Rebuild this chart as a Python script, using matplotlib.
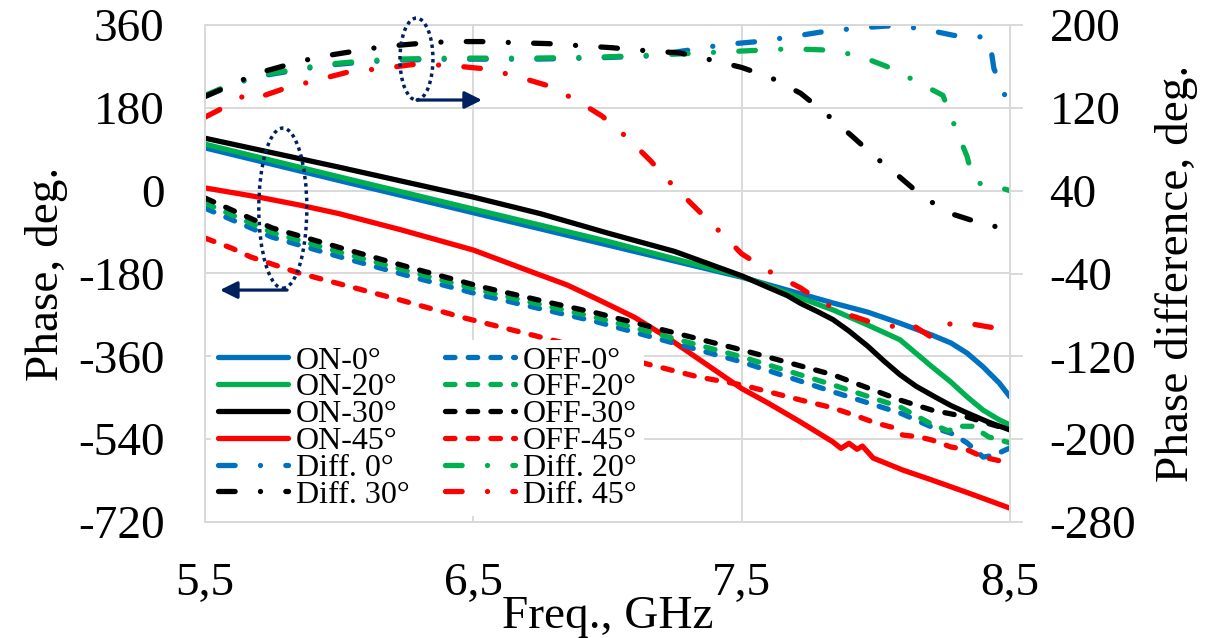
import matplotlib
matplotlib.use('Agg')
import matplotlib.pyplot as plt
from matplotlib.patches import Ellipse

plt.rcParams['font.family'] = ['Liberation Serif', 'DejaVu Serif']

# ---------------- data ----------------
freq_ticks = [5.5, 6.5, 7.5, 8.5]
freq_tick_labels = ['5,5', '6,5', '7,5', '8,5']
phase_ticks = [-720, -540, -360, -180, 0, 180, 360]
diff_ticks = [-280, -200, -120, -40, 40, 120, 200]

on0_f = [5.5, 6.0, 6.5, 7.0, 7.5, 7.84, 7.97, 8.09, 8.21, 8.28, 8.34, 8.4, 8.46, 8.5]
on0_v = [93, 22, -48, -118, -188, -244, -264, -288, -314, -331, -353, -383, -418, -448]

on20_f = [5.5, 6.0, 6.5, 7.0, 7.5, 7.84, 7.97, 8.09, 8.21, 8.28, 8.34, 8.4, 8.46, 8.5]
on20_v = [101, 30, -40, -110, -186, -259, -292, -324, -383, -416, -448, -477, -498, -509]

on30_f = [5.5, 6.0, 6.5, 6.75, 7.0, 7.25, 7.5, 7.59, 7.67, 7.72, 7.78, 7.84, 7.9, 7.97, 8.03, 8.09, 8.15, 8.22, 8.28, 8.34, 8.42, 8.5]
on30_v = [114, 51, -14, -50, -92, -132, -185, -208, -228, -245, -262, -280, -305, -338, -370, -400, -425, -448, -467, -483, -503, -520]

on45_f = [5.5, 5.7, 5.85, 6.0, 6.23, 6.5, 6.72, 6.85, 6.97, 7.1, 7.22, 7.34, 7.5, 7.6, 7.72, 7.84, 7.87, 7.9, 7.93, 7.95, 7.99, 8.1, 8.21, 8.35, 8.5]
on45_v = [6, -14, -31, -50, -85, -129, -177, -205, -238, -275, -318, -366, -430, -462, -503, -546, -560, -549, -562, -555, -581, -607, -629, -658, -690]

off30_f = [5.5, 5.75, 6.01, 6.27, 6.53, 6.79, 6.96, 7.5, 7.84, 8.09, 8.21, 8.34, 8.5]
off30_v = [-16, -81, -125, -168, -209, -244, -266, -346, -400, -455, -477, -492, -520]

off20_f = [5.5, 5.75, 6.01, 6.27, 6.53, 6.79, 6.96, 7.5, 7.84, 8.09, 8.2, 8.27, 8.31, 8.36, 8.42, 8.5]
off20_v = [-27, -91, -135, -177, -217, -253, -276, -361, -422, -470, -505, -522, -512, -512, -535, -548]

off0_f = [5.5, 5.75, 6.01, 6.27, 6.53, 6.79, 6.96, 7.5, 7.84, 8.09, 8.21, 8.28, 8.34, 8.4, 8.44, 8.5]
off0_v = [-38, -101, -145, -187, -227, -262, -285, -372, -437, -483, -514, -527, -548, -579, -575, -559]

off45_f = [5.5, 5.6, 5.67, 5.85, 6.23, 6.47, 7.13, 7.34, 7.5, 7.72, 7.84, 7.93, 8.0, 8.06, 8.1, 8.16, 8.21, 8.28, 8.34, 8.4, 8.5]
off45_v = [-103, -125, -144, -179, -238, -277, -374, -405, -422, -455, -472, -490, -505, -514, -531, -535, -542, -557, -563, -579, -592]

diff0_f = [5.5, 5.59, 5.69, 5.83, 5.95, 6.08, 6.2, 6.41, 6.56, 6.72, 6.93, 7.15, 7.31, 7.43, 7.56, 7.67, 7.79, 7.93, 8.04, 8.16, 8.29, 8.36, 8.41, 8.43, 8.44, 8.47, 8.5]
diff0_v = [131, 141, 150, 156, 161, 164, 166, 167, 167, 167, 168, 170, 176, 181, 184, 188, 193, 197, 199, 197, 190, 188, 189, 175, 158, 139, 120]

diff20_f = [5.5, 5.59, 5.69, 5.83, 5.95, 6.08, 6.2, 6.41, 6.56, 6.72, 6.97, 7.18, 7.43, 7.68, 7.8, 7.93, 8.04, 8.14, 8.25, 8.29, 8.34, 8.36, 8.38, 8.41, 8.5]
diff20_v = [132, 142, 151, 157, 162, 165, 167, 168, 168, 168, 169, 171, 174, 177, 176, 171, 160, 147, 132, 105, 73, 53, 47, 47, 40]

diff30_f = [5.5, 5.59, 5.69, 5.8, 5.92, 6.04, 6.16, 6.29, 6.41, 6.53, 6.65, 6.78, 6.9, 7.02, 7.1, 7.27, 7.39, 7.5, 7.61, 7.72, 7.82, 7.91, 8.0, 8.09, 8.18, 8.29, 8.41, 8.5]
diff30_v = [131, 141, 153, 161, 169, 174, 179, 182, 184, 184, 183, 182, 180, 178, 176, 173, 166, 159, 149, 134, 113, 93, 72, 53, 33, 17, 7, 3]

diff45_f = [5.5, 5.59, 5.66, 5.71, 5.8, 5.92, 6.04, 6.16, 6.28, 6.41, 6.53, 6.64, 6.77, 6.88, 6.98, 7.07, 7.16, 7.24, 7.33, 7.42, 7.5, 7.61, 7.72, 7.8, 7.9, 7.97, 8.06, 8.12, 8.21, 8.28, 8.34, 8.43]
diff45_v = [111, 123, 134, 131, 139, 147, 155, 158, 162, 161, 158, 152, 142, 128, 112, 92, 69, 46, 23, 0, -21, -39, -54, -68, -80, -86, -91, -87, -102, -88, -88, -92]

BLUE, GREEN, BLACK, RED = '#0070C0', '#00B050', '#000000', '#FF0000'
NAVY = '#002060'
GRID = '#D9D9D9'

# ---------------- figure ----------------
W, H = 1225, 638
fig = plt.figure(figsize=(W / 100, H / 100), dpi=100)
ax = fig.add_axes([205 / W, 116 / H, 805 / W, 497 / H])
ax2 = ax.twinx()

LW = 3.8
dash = (0, (1.8, 2.5))
dashdot = (0, (3.15, 4.8, 0.01, 4.8))

solid_kw = dict(lw=LW, solid_capstyle='round', solid_joinstyle='round')
dash_kw = dict(lw=LW, ls=dash, dash_capstyle='round', dash_joinstyle='round')
dd_kw = dict(lw=LW, ls=dashdot, dash_capstyle='round', dash_joinstyle='round')

h_on0, = ax.plot(on0_f, on0_v, color=BLUE, **solid_kw)
h_on20, = ax.plot(on20_f, on20_v, color=GREEN, **solid_kw)
h_on30, = ax.plot(on30_f, on30_v, color=BLACK, **solid_kw)
h_on45, = ax.plot(on45_f, on45_v, color=RED, **solid_kw)
h_off0, = ax.plot(off0_f, off0_v, color=BLUE, **dash_kw)
h_off20, = ax.plot(off20_f, off20_v, color=GREEN, **dash_kw)
h_off30, = ax.plot(off30_f, off30_v, color=BLACK, **dash_kw)
h_off45, = ax.plot(off45_f, off45_v, color=RED, **dash_kw)
h_d0, = ax2.plot(diff0_f, diff0_v, color=BLUE, **dd_kw)
h_d20, = ax2.plot(diff20_f, diff20_v, color=GREEN, **dd_kw)
h_d30, = ax2.plot(diff30_f, diff30_v, color=BLACK, **dd_kw)
h_d45, = ax2.plot(diff45_f, diff45_v, color=RED, **dd_kw)

ax.set_xlim(5.5, 8.5)
ax.set_ylim(-720, 360)
ax2.set_ylim(-280, 200)
ax.set_xticks(freq_ticks)
ax.set_xticklabels(freq_tick_labels)
ax.set_yticks(phase_ticks)
ax.set_yticklabels([str(t) for t in phase_ticks])
ax2.set_yticks(diff_ticks)
ax2.set_yticklabels([str(t) for t in diff_ticks])

ax.grid(True, color=GRID, lw=1.4)
ax.set_axisbelow(True)
for a in (ax, ax2):
    for s in a.spines.values():
        s.set_color(GRID)
        s.set_linewidth(1.4)

ax.tick_params(axis='both', length=0, pad=29, labelsize=34)
ax2.tick_params(axis='y', length=9.4, width=1.4, color=GRID, pad=19, labelsize=34)

ax.set_xlabel('Freq., GHz', fontsize=34)
ax.xaxis.set_label_coords(0.5, (522 - 628) / 497)
ax.xaxis.label.set_va('baseline')
ax.set_ylabel('Phase, deg.', fontsize=34)
ax.yaxis.set_label_coords((46 - 205) / 805, 0.5)
ax.yaxis.label.set_va('center')
ax2.set_ylabel('Phase difference, deg.', fontsize=34)
ax2.yaxis.set_label_coords((1177 - 205) / 805, 0.5)
ax2.yaxis.label.set_va('center')

# annotation ellipses and arrows (drawn in left-axis data space)
ax2.add_patch(Ellipse((6.288, 286), 0.123, 178, transform=ax.transData, fill=False,
                      ec=NAVY, lw=2.5, ls=(0, (1, 1.1)), clip_on=False, zorder=5))
ax2.add_patch(Ellipse((5.79, -38), 0.179, 348, transform=ax.transData, fill=False,
                      ec=NAVY, lw=2.5, ls=(0, (1, 1.1)), clip_on=False, zorder=5))
arrow_kw = dict(arrowstyle='-|>', color=NAVY, lw=2.3, mutation_scale=26, shrinkA=0, shrinkB=0)
ax2.annotate('', xy=(6.532, 197), xytext=(6.29, 197), xycoords=ax.transData,
             textcoords=ax.transData, arrowprops=arrow_kw, zorder=5)
ax2.annotate('', xy=(5.556, -216), xytext=(5.806, -216), xycoords=ax.transData,
             textcoords=ax.transData, arrowprops=arrow_kw, zorder=5)

handles = [h_on0, h_on20, h_on30, h_on45, h_d0, h_d30,
           h_off0, h_off20, h_off30, h_off45, h_d20, h_d45]
labels = ['ON-0°', 'ON-20°', 'ON-30°', 'ON-45°', 'Diff. 0°', 'Diff. 30°',
          'OFF-0°', 'OFF-20°', 'OFF-30°', 'OFF-45°', 'Diff. 20°', 'Diff. 45°']
leg = ax2.legend(handles, labels, ncol=2, loc='lower left', bbox_to_anchor=(0.008, 0.012),
                 fontsize=23, frameon=True, facecolor='white', edgecolor='none', framealpha=1,
                 fancybox=False, handlelength=2.2, handletextpad=0.25, columnspacing=1.1,
                 labelspacing=-0.08, borderpad=0.2, borderaxespad=0)
leg.set_zorder(10)

fig.savefig('out.png', dpi=100)
